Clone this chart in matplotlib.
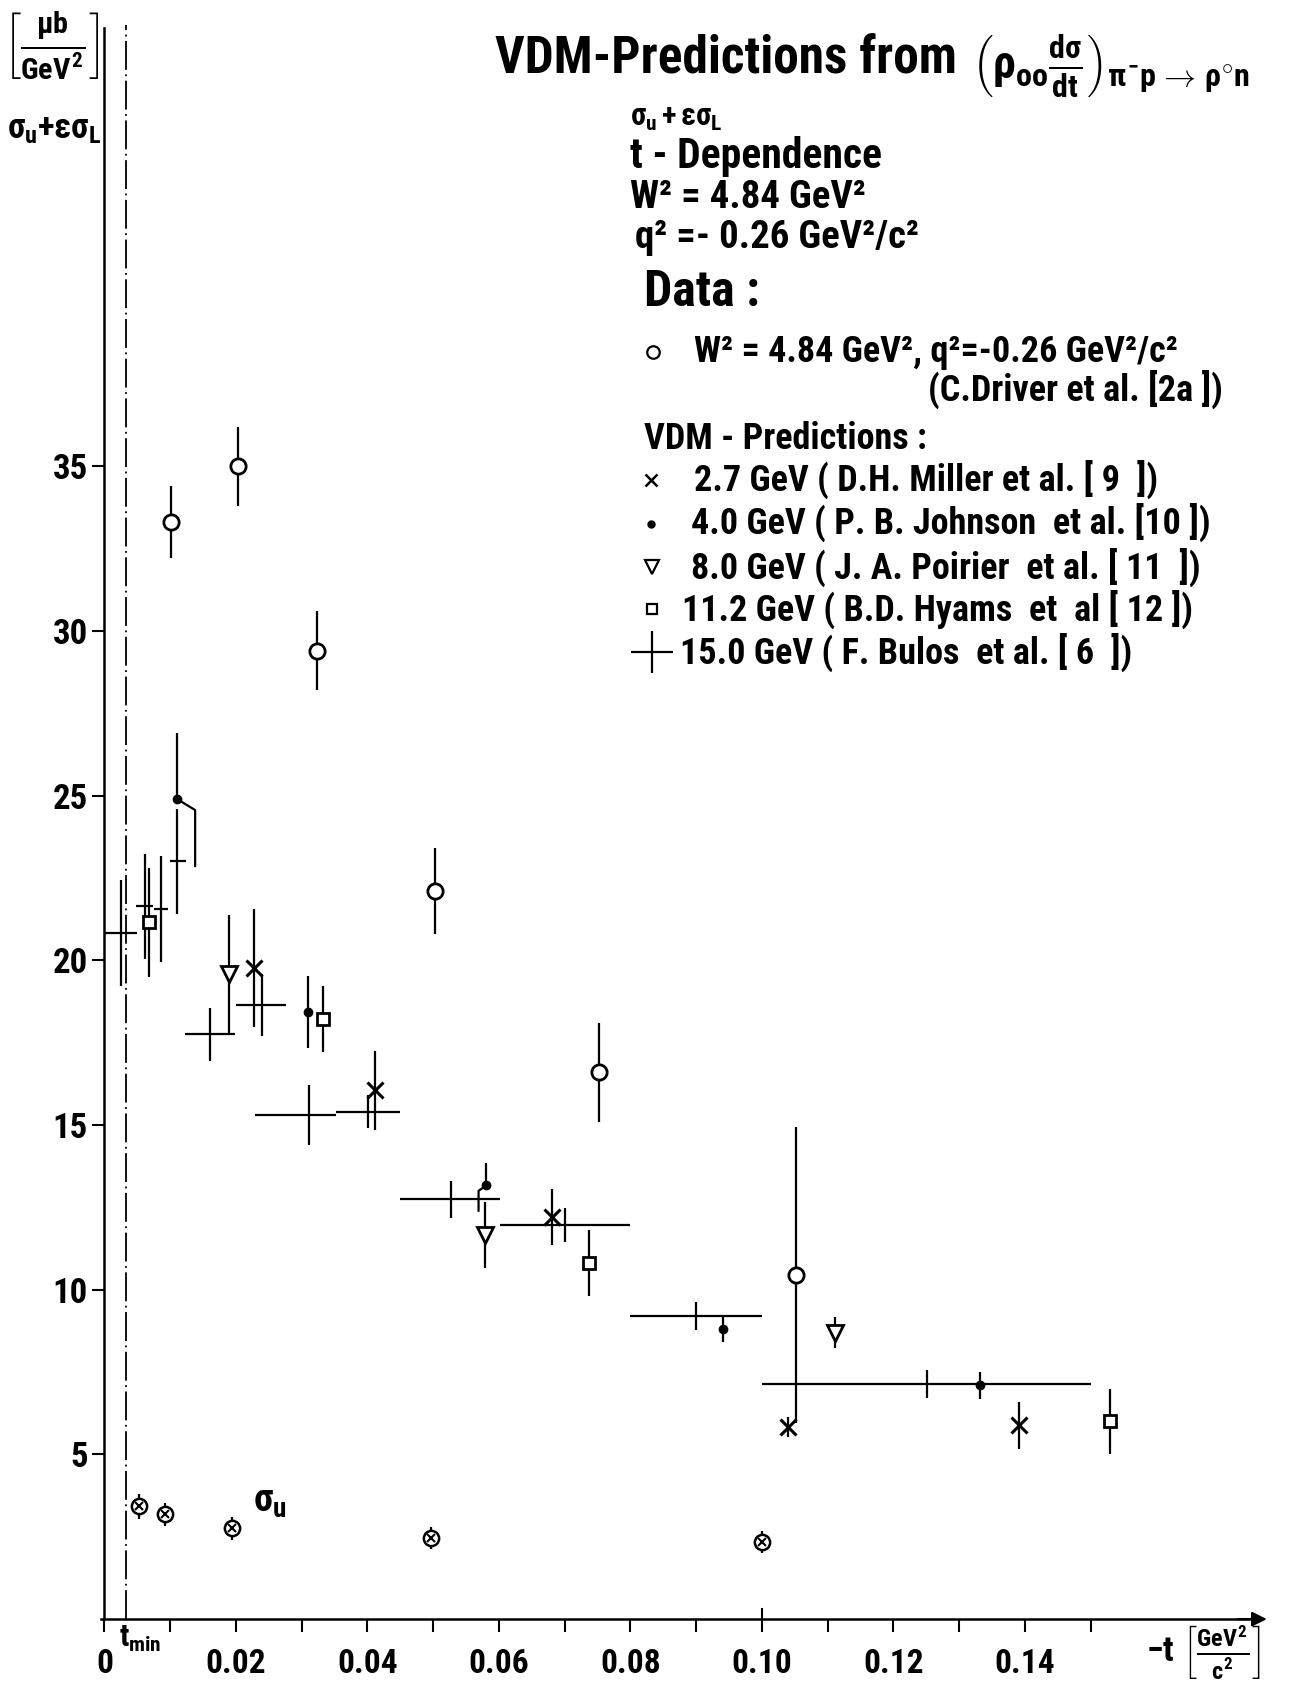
import matplotlib
matplotlib.use('Agg')
import matplotlib.pyplot as plt
from matplotlib import font_manager
import numpy as np

# ---- values ----
# Data: C. Driver et al., W^2 = 4.84 GeV^2, q^2 = -0.26 GeV^2/c^2
driver_t = [0.0102, 0.0203, 0.0324, 0.0503, 0.0752, 0.1052]
driver_v = [33.3, 35.0, 29.4, 22.1, 16.6, 10.45]
driver_err = [1.1, 1.2, 1.2, 1.3, 1.5, 4.5]

# 2.7 GeV (D.H. Miller et al.)
miller_t = [0.0228, 0.0411, 0.0680, 0.1040, 0.1391]
miller_v = [19.76, 16.05, 12.2, 5.83, 5.88]
miller_err = [1.8, 1.2, 0.85, 0.3, 0.72]

# 4.0 GeV (P.B. Johnson et al.)
johnson_t = [0.0110, 0.0310, 0.0581, 0.0941, 0.1331]
johnson_v = [24.9, 18.43, 13.17, 8.81, 7.11]
johnson_up = [2.0, 1.1, 0.68, 0.37, 0.4]
johnson_dn = [0.0, 1.1, 0.0, 0.4, 0.42]
# lower error bars of two points are drawn shifted aside
johnson_kink_t = [[0.0110, 0.0138, 0.0138], [0.0581, 0.0569, 0.0569]]
johnson_kink_v = [[24.9, 24.56, 22.86], [13.17, 13.0, 12.4]]

# 8.0 GeV (J.A. Poirier et al.)
poirier_t = [0.0189, 0.0579, 0.1111]
poirier_v = [19.57, 11.67, 8.7]
poirier_err = [1.8, 1.0, 0.48]

# 11.2 GeV (B.D. Hyams et al.)
hyams_t = [0.0068, 0.0333, 0.0737, 0.1530]
hyams_v = [21.15, 18.23, 10.8, 6.0]
hyams_err = [1.65, 1.0, 1.0, 1.0]

# 15.0 GeV (F. Bulos et al.), bins in -t
bulos_t = [0.0025, 0.0061, 0.0086, 0.0111, 0.0161, 0.0240, 0.0311, 0.0401, 0.0527, 0.0701, 0.0900, 0.1251]
bulos_lo = [0.0, 0.0048, 0.0075, 0.0100, 0.0123, 0.0200, 0.0229, 0.0352, 0.0450, 0.0602, 0.0800, 0.1000]
bulos_hi = [0.0049, 0.0074, 0.0097, 0.0124, 0.0198, 0.0276, 0.0352, 0.0450, 0.0601, 0.0800, 0.1000, 0.1500]
bulos_v = [20.83, 21.64, 21.56, 23.0, 17.75, 18.64, 15.3, 15.4, 12.74, 11.96, 9.2, 7.14]
bulos_err = [1.6, 1.6, 1.6, 1.6, 0.8, 0.95, 0.9, 0.5, 0.56, 0.51, 0.42, 0.43]

# sigma_u
sigu_t = [0.0052, 0.0092, 0.0194, 0.0497, 0.1000]
sigu_v = [3.43, 3.18, 2.76, 2.46, 2.35]
sigu_err = [0.38, 0.35, 0.35, 0.33, 0.33]

t_min = 0.0033
x_ticks = [0, 0.02, 0.04, 0.06, 0.08, 0.10, 0.12, 0.14]
x_ticklabels = ['0', '0.02', '0.04', '0.06', '0.08', '0.10', '0.12', '0.14']
x_minor = [0.01, 0.03, 0.05, 0.07, 0.09, 0.11, 0.13, 0.15]
y_ticks = [5, 10, 15, 20, 25, 30, 35]

# ---- fonts: prefer a narrow face like the original lettering ----
names = {f.name for f in font_manager.fontManager.ttflist}
fam = 'DejaVu Sans'
for cand in ['Liberation Sans Narrow', 'Roboto Condensed', 'Open Sans Condensed']:
    if cand in names:
        fam = cand
        break
k = 1.0 if fam != 'DejaVu Sans' else 0.78
plt.rcParams['font.family'] = [fam, 'DejaVu Sans']
plt.rcParams['font.weight'] = 'bold'
plt.rcParams['mathtext.fontset'] = 'custom'
plt.rcParams['mathtext.rm'] = fam + ':bold'
plt.rcParams['mathtext.it'] = fam + ':bold'
plt.rcParams['mathtext.bf'] = fam + ':bold'
plt.rcParams['mathtext.sf'] = fam + ':bold'

W, H = 1207.0, 1568.0  # layout measured on the reference (scaled)
fig = plt.figure(figsize=(12.99, 16.88), dpi=100)
ax = fig.add_axes([0, 0, 1, 1])
# 0 at x=97 px, 0.1 per 611 px; 0 at y=1504 px, 1 unit per 30.6 px
ax.set_xlim(-97 / 6110, (W - 97) / 6110)
ax.set_ylim((1504 - H) / 30.6, 1504 / 30.6)
ax.patch.set_alpha(0)

for s in ['top', 'right']:
    ax.spines[s].set_visible(False)
ax.spines['left'].set_position(('data', 0))
ax.spines['bottom'].set_position(('data', 0))
ax.spines['left'].set_bounds(0, 48.3)
ax.spines['bottom'].set_bounds(-0.0005, 0.174)
ax.spines['left'].set_linewidth(1.8)
ax.spines['bottom'].set_linewidth(1.8)
ax.annotate('', xy=(0, 49.2), xytext=(0, 47.5),
            arrowprops=dict(arrowstyle='-|>', color='k', lw=1.6, mutation_scale=22))
ax.annotate('', xy=(0.1772, 0), xytext=(0.172, 0),
            arrowprops=dict(arrowstyle='-|>', color='k', lw=1.6, mutation_scale=22))
# the 0.10 tick crosses the axis
ax.plot([0.10, 0.10], [0, 0.3], color='k', lw=1.5)

ax.set_xticks(x_ticks)
ax.set_xticklabels(x_ticklabels)
ax.set_xticks(x_minor, minor=True)
ax.tick_params(axis='x', which='both', direction='out', length=9, width=1.5,
               pad=12, labelsize=24 * k)
ax.set_yticks(y_ticks)
ax.tick_params(axis='y', direction='out', length=9, width=1.5, pad=3, labelsize=25 * k)

# t_min line
ax.plot([t_min, t_min], [0, 48.4], color='k', lw=1.3, ls=(0, (16, 2.5, 1, 2.5)))

lw = 1.6
ax.errorbar(bulos_t, bulos_v,
            xerr=[np.subtract(bulos_t, bulos_lo), np.subtract(bulos_hi, bulos_t)],
            yerr=bulos_err, fmt='none', ecolor='k', elinewidth=lw, capsize=0)
ax.errorbar(driver_t, driver_v, yerr=driver_err, fmt='o', ms=11, mfc='white',
            mec='k', mew=2, ecolor='k', elinewidth=lw, capsize=0, zorder=4)
ax.errorbar(miller_t, miller_v, yerr=miller_err, fmt='x', ms=11, mec='k',
            mew=2.2, ecolor='k', elinewidth=lw, capsize=0, zorder=4)
ax.errorbar(johnson_t, johnson_v, yerr=[johnson_dn, johnson_up], fmt='o', ms=6,
            color='k', ecolor='k', elinewidth=lw, capsize=0, zorder=4)
for kt, kv in zip(johnson_kink_t, johnson_kink_v):
    ax.plot(kt, kv, color='k', lw=lw)
ax.errorbar(poirier_t, poirier_v, yerr=poirier_err, fmt='v', ms=12, mfc='white',
            mec='k', mew=2, ecolor='k', elinewidth=lw, capsize=0, zorder=4)
ax.errorbar(hyams_t, hyams_v, yerr=hyams_err, fmt='s', ms=8, mfc='white',
            mec='k', mew=2, ecolor='k', elinewidth=lw, capsize=0, zorder=4)
ax.errorbar(sigu_t, sigu_v, yerr=sigu_err, fmt='o', ms=11, mfc='white',
            mec='k', mew=1.8, ecolor='k', elinewidth=lw, capsize=0, zorder=4)
ax.plot(sigu_t, sigu_v, 'x', ms=6, mec='k', mew=1.5, zorder=5)

# ---- text ----
def ftext(x, y, s, size, **kw):
    fig.text(x / W, 1 - y / H, s, fontsize=size * k, ha=kw.pop('ha', 'left'),
             va=kw.pop('va', 'center'), fontweight='bold', **kw)

ftext(460, 55, 'VDM-Predictions from', 37)
ftext(903, 62, r'$\left(\rho_{oo}\frac{d\sigma}{dt}\right)_{\pi^{-}p\,\rightarrow\,\rho^{\circ}n}$', 33)
ftext(585, 110, r'$\sigma_u + \varepsilon\sigma_L$', 22)
ftext(585, 145, 't - Dependence', 30)
ftext(585, 183, 'W² = 4.84 GeV²', 28)
ftext(590, 221, 'q² =- 0.26 GeV²/c²', 28)
ftext(598, 272, 'Data :', 36)
ftext(645, 327, 'W² = 4.84 GeV², q²=-0.26 GeV²/c²', 26)
ftext(862, 362, '(C.Driver et al. [2a ])', 26)
ftext(598, 408, 'VDM - Predictions :', 26)
ftext(645, 445, '2.7 GeV ( D.H. Miller et al. [ 9  ])', 26)
ftext(642, 485, '4.0 GeV ( P. B. Johnson  et al. [10 ])', 26)
ftext(642, 527, '8.0 GeV ( J. A. Poirier  et al. [ 11  ])', 26)
ftext(634, 566, '11.2 GeV ( B.D. Hyams  et  al [ 12 ])', 26)
ftext(632, 606, '15.0 GeV ( F. Bulos  et al. [ 6  ])', 26)

key = dict(transform=fig.transFigure, clip_on=False, color='k')
ax.plot([607 / W], [1 - 327 / H], 'o', ms=9, mfc='white', mew=1.6, **key)
ax.plot([605 / W], [1 - 446 / H], 'x', ms=8, mew=1.8, **key)
ax.plot([605 / W], [1 - 487 / H], 'o', ms=5, **key)
ax.plot([606 / W], [1 - 527 / H], 'v', ms=10, mfc='white', mew=1.6, **key)
ax.plot([606 / W], [1 - 566 / H], 's', ms=7, mfc='white', mew=1.6, **key)
ax.plot([606 / W], [1 - 606 / H], '+', ms=30, mew=1.6, **key)

# axis titles
ftext(48, 43, r'$\left[\frac{\mu b}{GeV^2}\right]$', 31, ha='center')
ftext(50, 120, r'$\sigma_u$+$\varepsilon\sigma_L$', 25, ha='center')
ftext(1118, 1508, r'$-t\ \left[\frac{GeV^2}{c^2}\right]$', 25, ha='center', va='top')
ftext(130, 1522, r'$t_{min}$', 22, ha='center')
ftext(251, 1395, r'$\sigma_u$', 28, ha='center')

fig.savefig('out.png', dpi=100)
